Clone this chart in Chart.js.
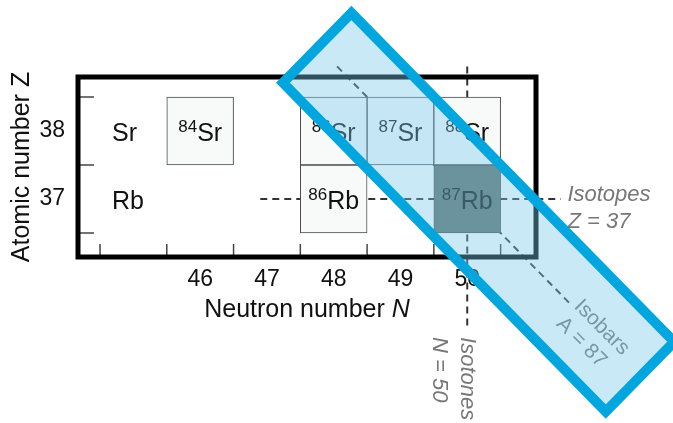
<!DOCTYPE html>
<html>
<head>
<meta charset="utf-8">
<script src="https://cdn.jsdelivr.net/npm/chart.js@4/dist/chart.umd.min.js"></script>
<style>
  html, body { margin: 0; padding: 0; background: #fff; }
</style>
</head>
<body>
<canvas id="myChart" width="673" height="423"></canvas>
<script>
// nuclide cells (neutron number N, atomic number Z)
const cellN = [46, 48, 49, 50, 48, 50];
const cellZ = [38, 38, 38, 38, 37, 37];
const cellMass = [84, 86, 87, 88, 86, 87];
const cellSymbol = ["Sr", "Sr", "Sr", "Sr", "Rb", "Rb"];
const parentNuclide = "87Rb";

const elementZ = [38, 37];
const elementSymbol = ["Sr", "Rb"];

const xTicks = [46, 47, 48, 49, 50];
const yTicks = [37, 38];
const xTickMarks = [44.5, 45.5, 46.5, 47.5, 48.5, 49.5, 50.5];
const yTickMarks = [36.5, 37.5, 38.5];

// isotopes Z = 37, isotones N = 50, isobars A = 87
const isotopeN = [46.9, 51.4];
const isotopeZ = [37, 37];
const isotoneN = [50, 50];
const isotoneZ = [38.95, 35.1];
const isobarN = [48.05, 51.55];
const isobarZ = [38.95, 35.45];

// highlighted band along A = 87
const bandN = [48.265, 47.24, 52.075, 53.1];
const bandZ = [39.735, 38.71, 33.875, 34.9];

const family = "'Liberation Sans', Arial, sans-serif";
const labelGray = "#777";

function dashed(ns, zs) {
  return {
    type: "line",
    data: ns.map((n, i) => ({ x: n, y: zs[i] })),
    borderColor: "#333",
    borderWidth: 2,
    borderDash: [7, 5],
    pointRadius: 0,
    fill: false,
    clip: false,
    order: 2,
  };
}

function textLines(ctx, x, y, angle, lines, gap) {
  ctx.save();
  ctx.translate(x, y);
  ctx.rotate(angle);
  lines.forEach((t, i) => ctx.fillText(t, 0, i * gap));
  ctx.restore();
}

const chartDecor = {
  id: "chartDecor",
  afterDatasetsDraw(chart) {
    const c = chart.ctx;
    const xs = chart.scales.x;
    const ys = chart.scales.y;
    const a = chart.chartArea;
    c.save();

    // inward tick marks
    c.strokeStyle = "#444";
    c.lineWidth = 1.5;
    xTickMarks.forEach((n) => {
      const x = xs.getPixelForValue(n);
      c.beginPath();
      c.moveTo(x, a.bottom);
      c.lineTo(x, a.bottom - 13);
      c.stroke();
    });
    yTickMarks.forEach((z) => {
      const y = ys.getPixelForValue(z);
      c.beginPath();
      c.moveTo(a.left, y);
      c.lineTo(a.left + 16, y);
      c.stroke();
    });

    // frame
    c.strokeStyle = "#000";
    c.lineWidth = 5;
    c.strokeRect(a.left, a.top, a.right - a.left, a.bottom - a.top);

    // element names
    c.fillStyle = "#111";
    c.textBaseline = "alphabetic";
    c.textAlign = "left";
    c.font = "25px " + family;
    elementSymbol.forEach((s, i) => {
      c.fillText(s, xs.getPixelForValue(44.68), ys.getPixelForValue(elementZ[i]) + 10);
    });

    // nuclide labels
    cellN.forEach((n, i) => {
      const cx = xs.getPixelForValue(n);
      const cy = ys.getPixelForValue(cellZ[i]);
      const mass = String(cellMass[i]);
      c.font = "17px " + family;
      const wm = c.measureText(mass).width;
      c.font = "25px " + family;
      const ws = c.measureText(cellSymbol[i]).width;
      const x0 = cx - (wm + ws) / 2;
      c.font = "17px " + family;
      c.fillText(mass, x0, cy + 1);
      c.font = "25px " + family;
      c.fillText(cellSymbol[i], x0 + wm, cy + 10);
    });

    // axis titles
    c.textBaseline = "middle";
    const t1 = "Neutron number ";
    c.font = "25px " + family;
    const w1 = c.measureText(t1).width;
    c.font = "italic 25px " + family;
    const w2 = c.measureText("N").width;
    const tx = (a.left + a.right) / 2 - (w1 + w2) / 2;
    c.font = "25px " + family;
    c.fillText(t1, tx, 310);
    c.font = "italic 25px " + family;
    c.fillText("N", tx + w1, 310);

    c.textAlign = "center";
    c.font = "25px " + family;
    textLines(c, 22, (a.top + a.bottom) / 2, -Math.PI / 2, ["Atomic number Z"], 0);
    c.textAlign = "left";

    // line annotations
    c.fillStyle = labelGray;
    c.font = "italic 22px " + family;
    textLines(c, xs.getPixelForValue(51.5), ys.getPixelForValue(37.06), 0, ["Isotopes", "Z = 37"], 27);
    textLines(c, xs.getPixelForValue(50), ys.getPixelForValue(34.97), Math.PI / 2, ["Isotones", "N = 50"], 28);
    c.font = "21px " + family;
    textLines(c, xs.getPixelForValue(51.65), ys.getPixelForValue(35.47), Math.PI / 4, ["Isobars", "A = 87"], 25);
    c.restore();
  },
  afterDraw(chart) {
    const c = chart.ctx;
    const xs = chart.scales.x;
    const ys = chart.scales.y;
    c.save();
    c.beginPath();
    bandN.forEach((n, i) => {
      const x = xs.getPixelForValue(n);
      const y = ys.getPixelForValue(bandZ[i]);
      if (i === 0) c.moveTo(x, y);
      else c.lineTo(x, y);
    });
    c.closePath();
    c.fillStyle = "rgba(120, 200, 235, 0.4)";
    c.fill();
    c.lineJoin = "miter";
    c.lineWidth = 10;
    c.strokeStyle = "#00a6dd";
    c.stroke();
    c.restore();
  },
};

const ctx = document.getElementById("myChart");

new Chart(ctx, {
  type: "bar",
  data: {
    datasets: [
      {
        label: "Nuclides",
        data: cellN.map((n, i) => ({ x: n, y: [cellZ[i] - 0.5, cellZ[i] + 0.5] })),
        backgroundColor: (c) =>
          cellMass[c.dataIndex] + cellSymbol[c.dataIndex] === parentNuclide ? "#62716b" : "#f8fafa",
        borderColor: "#4a4a4a",
        borderWidth: 1,
        borderSkipped: false,
        barPercentage: 1,
        categoryPercentage: 1,
        order: 1,
      },
      dashed(isotopeN, isotopeZ),
      dashed(isotoneN, isotoneZ),
      dashed(isobarN, isobarZ),
    ],
  },
  options: {
    responsive: false,
    animation: false,
    events: [],
    layout: { padding: { left: 0, top: 77, right: 137, bottom: 0 } },
    plugins: { legend: { display: false }, tooltip: { enabled: false } },
    scales: {
      x: {
        type: "linear",
        min: 44.17,
        max: 51.03,
        offset: false,
        afterBuildTicks: (s) => {
          s.ticks = xTicks.map((v) => ({ value: v }));
        },
        afterFit: (s) => {
          s.height = 166;
        },
        grid: { display: false, drawTicks: false },
        border: { display: false },
        ticks: { color: "#111", font: { size: 23, family }, padding: 9, maxRotation: 0, autoSkip: false },
      },
      y: {
        type: "linear",
        min: 36.147,
        max: 38.794,
        afterBuildTicks: (s) => {
          s.ticks = yTicks.map((v) => ({ value: v }));
        },
        afterFit: (s) => {
          s.width = 78;
        },
        grid: { display: false, drawTicks: false },
        border: { display: false },
        ticks: { color: "#111", font: { size: 23, family }, padding: 13 },
      },
    },
  },
  plugins: [chartDecor],
});
</script>
</body>
</html>
